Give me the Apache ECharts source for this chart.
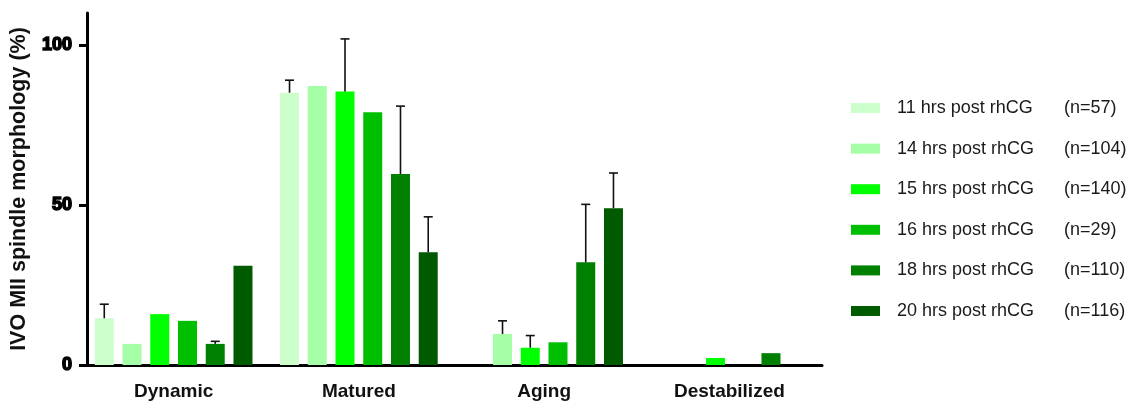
<!DOCTYPE html>
<html>
<head>
<meta charset="utf-8">
<script src="https://cdn.jsdelivr.net/npm/echarts@6/dist/echarts.min.js"></script>
<style>html,body{margin:0;padding:0;background:#fff}#c{width:1131px;height:401px}</style>
</head>
<body>
<div id="c"></div>
<script>
const categories = ['Dynamic', 'Matured', 'Aging', 'Destabilized'];
const seriesNames = ['11 hrs post rhCG', '14 hrs post rhCG', '15 hrs post rhCG', '16 hrs post rhCG', '18 hrs post rhCG', '20 hrs post rhCG'];
const nLabels = ['(n=57)', '(n=104)', '(n=140)', '(n=29)', '(n=110)', '(n=116)'];
const colors = ['#ccffcc', '#a6ffa6', '#00ff00', '#00bf00', '#008000', '#005a00'];

const v11 = [14.6, 85.1, 0, 0];
const v14 = [6.6, 87.2, 9.7, 0];
const v15 = [15.9, 85.5, 5.4, 2.2];
const v16 = [13.8, 79.0, 7.1, 0];
const v18 = [6.6, 59.7, 32.1, 3.7];
const v20 = [31.0, 35.2, 49.0, 0];

const sd11 = [4.4, 3.9, null, null];
const sd14 = [null, null, 4.1, null];
const sd15 = [null, 16.4, 3.8, null];
const sd16 = [null, null, null, null];
const sd18 = [0.8, 21.2, 18.1, null];
const sd20 = [null, 11.1, 11.0, null];

const yTicks = [0, 50, 100];

const values = [v11, v14, v15, v16, v18, v20];
const sds = [sd11, sd14, sd15, sd16, sd18, sd20];

const BAR_W = 19;
const BAR_GAP = 0.46;
const STEP = BAR_W * (1 + BAR_GAP);

const errData = [];
sds.forEach((sd, s) => sd.forEach((e, c) => {
  if (e != null) errData.push([c, s, values[s][c], values[s][c] + e]);
}));

const barSeries = seriesNames.map((name, i) => ({
  name: name,
  type: 'bar',
  data: values[i],
  barWidth: BAR_W,
  barGap: (BAR_GAP * 100) + '%',
  itemStyle: { color: colors[i] },
  emphasis: { disabled: true }
}));

const errSeries = {
  type: 'custom',
  silent: true,
  z: 5,
  data: errData,
  encode: { x: 0, y: [2, 3] },
  renderItem: function (params, api) {
    const c = api.value(0), s = api.value(1);
    const base = api.coord([c, api.value(2)]);
    const top = api.coord([c, api.value(3)]);
    const x = base[0] + (s - 2.5) * STEP;
    const capHalf = 4.5;
    const style = { stroke: '#111', lineWidth: 1.6, fill: null };
    return {
      type: 'group',
      children: [
        { type: 'line', shape: { x1: x, y1: base[1], x2: x, y2: top[1] }, style: style },
        { type: 'line', shape: { x1: x - capHalf, y1: top[1], x2: x + capHalf, y2: top[1] }, style: style }
      ]
    };
  }
};

const chart = echarts.init(document.getElementById('c'));
chart.setOption({
  animation: false,
  backgroundColor: '#fff',
  grid: { left: 81, right: 309, top: 13, bottom: 36 },
  legend: {
    orient: 'vertical',
    left: 851,
    top: 99,
    padding: 0,
    itemWidth: 29,
    itemHeight: 10,
    itemGap: 22.6,
    icon: 'rect',
    data: seriesNames,
    selectedMode: false,
    formatter: function (name) {
      return '{a|' + name + '}{b|' + nLabels[seriesNames.indexOf(name)] + '}';
    },
    textStyle: {
      rich: {
        a: { fontFamily: 'Liberation Sans', fontSize: 18, color: '#1a1a1a', width: 167, padding: [0, 0, 0, 12], lineHeight: 20 },
        b: { fontFamily: 'Liberation Sans', fontSize: 18, color: '#1a1a1a', lineHeight: 20 }
      }
    }
  },
  xAxis: {
    type: 'category',
    data: categories,
    axisLine: { lineStyle: { color: '#000', width: 3 } },
    axisTick: { alignWithLabel: true, length: 8, lineStyle: { color: '#000', width: 3 } },
    axisLabel: { margin: 17, fontFamily: 'Liberation Sans', fontWeight: 'bold', fontSize: 19, color: '#111' },
    splitLine: { show: false }
  },
  yAxis: {
    type: 'value',
    min: 0,
    max: 110,
    interval: 50,
    offset: -6,
    name: 'IVO MII spindle morphology (%)',
    nameLocation: 'middle',
    nameGap: 57,
    nameTextStyle: { fontFamily: 'Liberation Sans', fontWeight: 'bold', fontSize: 21.5, color: '#111' },
    axisLine: { show: true, lineStyle: { color: '#000', width: 3 } },
    axisTick: { show: true, length: 8, customValues: yTicks, lineStyle: { color: '#000', width: 3 } },
    axisLabel: {
      customValues: yTicks,
      margin: 15,
      fontFamily: 'Liberation Sans', fontWeight: 'bold', fontSize: 18, color: '#000',
      textBorderColor: '#000', textBorderWidth: 1.5
    },
    splitLine: { show: false }
  },
  series: barSeries.concat([errSeries])
});
</script>
</body>
</html>
